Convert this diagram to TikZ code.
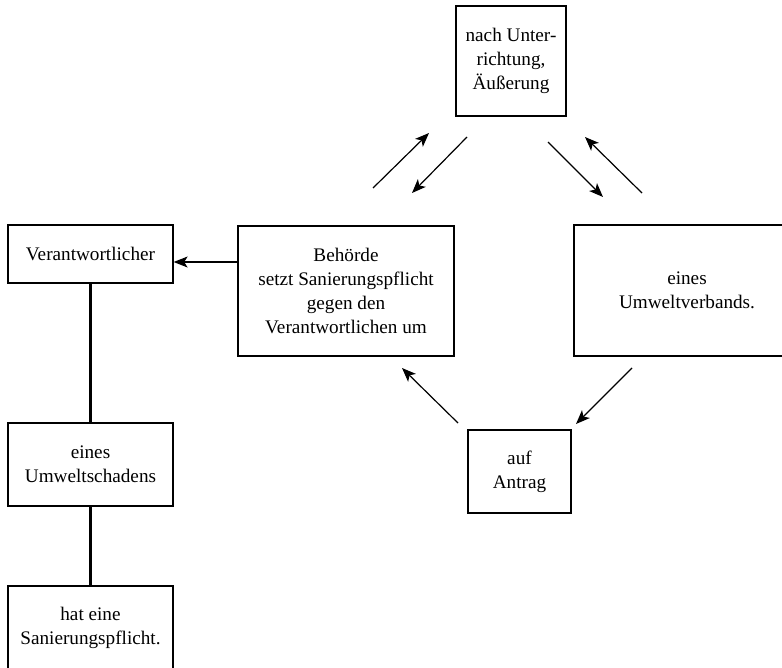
\documentclass[tikz,border=0pt]{standalone}
\usepackage{fontspec}
\setmainfont{Liberation Serif}
\usepackage{tikz}
\usetikzlibrary{arrows.meta,positioning}

\begin{document}
\begin{tikzpicture}[x=1pt,y=-1pt,font=\fontsize{19.2}{24}\selectfont,
    box/.style={draw,line width=1.3pt,inner sep=0pt,align=center},
    arr/.style={line width=1.2pt,-{Stealth[length=14pt,width=11pt,inset=3.5pt]}},
    link/.style={line width=2.2pt}]
    \useasboundingbox (0,0) rectangle (782,667);
    \clip (0,0) rectangle (782,667);
    % boxes
    \node[box,minimum width=110,minimum height=110] (unter) at (511,61)
      {nach Unter-\\richtung,\\Äußerung};
    \node[box,minimum width=165,minimum height=58] (verant) at (90.5,254)
      {Verantwortlicher};
    \node[box,minimum width=216,minimum height=130] (behoerde) at (346,291)
      {Behörde\\setzt Sanierungspflicht\\gegen den\\Verantwortlichen um};
    \node[box,minimum width=226,minimum height=131] (verband) at (687,290.5)
      {eines\\Umweltverbands.};
    \node[box,minimum width=103,minimum height=83] (antrag) at (519.5,471.5)
      {auf\\Antrag};
    \node[box,minimum width=165,minimum height=83] (schaden) at (90.5,464.5)
      {eines\\Umweltschadens};
    \node[box,minimum width=165,minimum height=83] (pflicht) at (90.5,627.5)
      {hat eine\\Sanierungspflicht.};
    % arrow ends
    \coordinate (b2u) at (373,188); \coordinate (u2b) at (429,133);
    \coordinate (u3b) at (467,137); \coordinate (b3u) at (412,193);
    \coordinate (u2v) at (548,142); \coordinate (v2u) at (603,197);
    \coordinate (v3u) at (642,193); \coordinate (u3v) at (585,137);
    \coordinate (a2b) at (458,423); \coordinate (b2a) at (402,368);
    \coordinate (v2a) at (632,368); \coordinate (a2v) at (576,424);
    % connectors
    \draw[arr] (b2u) -- (u2b);
    \draw[arr] (u3b) -- (b3u);
    \draw[arr] (u2v) -- (v2u);
    \draw[arr] (v3u) -- (u3v);
    \draw[arr] (a2b) -- (b2a);
    \draw[arr] (v2a) -- (a2v);
    \draw[arr] (behoerde.west |- 0,262) -- (verant.east |- 0,262);
    \draw[link] (verant) -- (schaden);
    \draw[link] (schaden) -- (pflicht);
\end{tikzpicture}
\end{document}
